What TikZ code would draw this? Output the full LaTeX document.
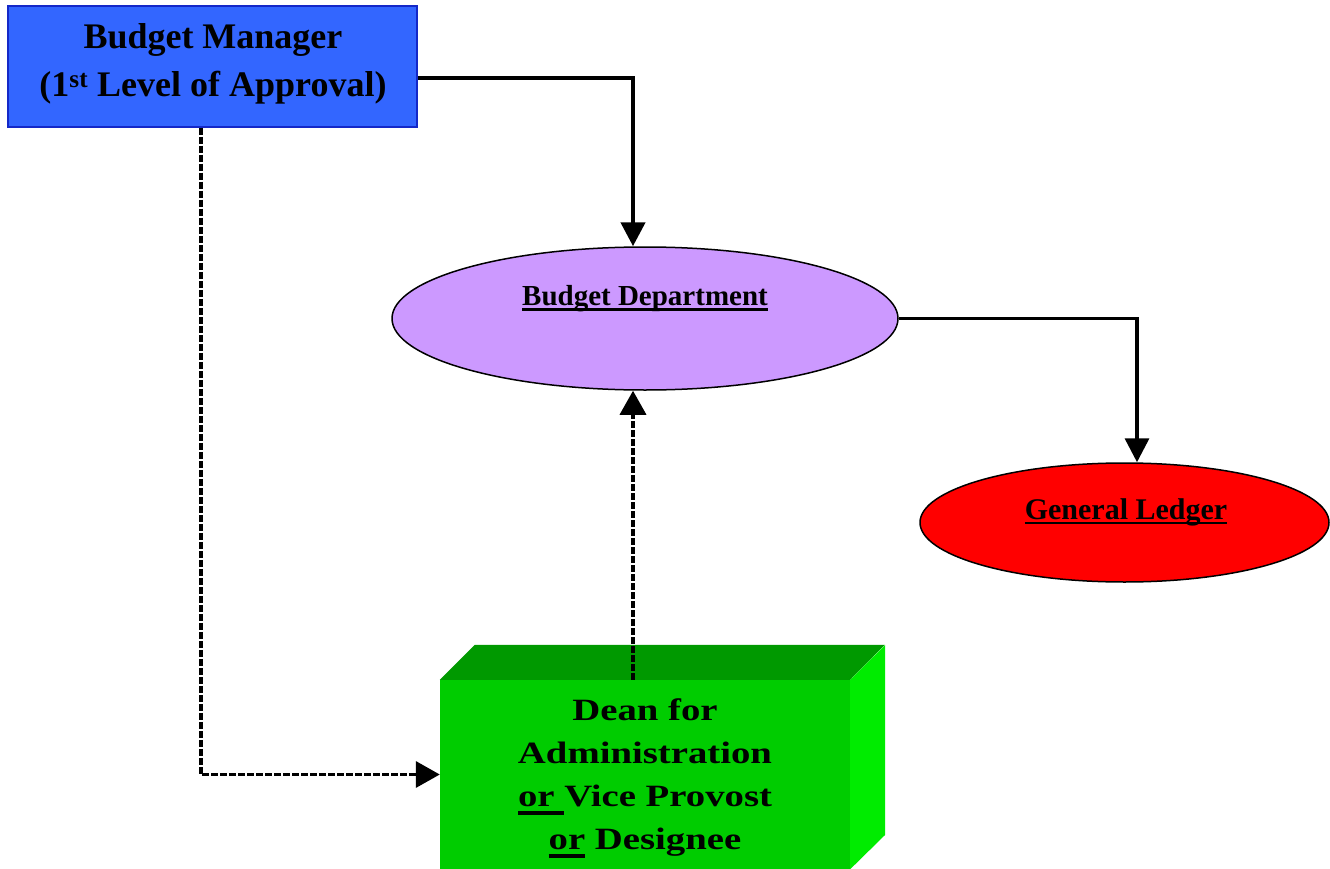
\documentclass[tikz,border=0pt]{standalone}
\usepackage{fontspec}
\setmainfont{Liberation Serif}
\newfontfamily\widefont[FakeStretch=1.25]{Liberation Serif}
\usetikzlibrary{arrows.meta,shapes.geometric}
\definecolor{bmblue}{RGB}{51,102,255}
\definecolor{bmborder}{RGB}{20,40,200}
\definecolor{bdpurple}{RGB}{204,153,255}
\definecolor{glred}{RGB}{255,0,0}
\definecolor{gfront}{RGB}{0,204,0}
\definecolor{gtop}{RGB}{0,153,0}
\definecolor{gside}{RGB}{0,236,0}
\newcommand\thickul[3]{\setbox0\hbox{#3}\rlap{\rule[-#1]{\wd0}{#2}}\box0\relax}
\tikzset{
  solidarrow/.style={line width=4.5pt,-{Triangle[length=24pt,width=24pt]}},
  solidarrowb/.style={line width=3.5pt,-{Triangle[length=24pt,width=24pt]}},
  dasharrow/.style={line width=3.5pt,dash pattern=on 7pt off 2pt,-{Triangle[length=24pt,width=26pt]}},
  txt/.style={inner sep=0pt,font=\bfseries,align=center},
}
\begin{document}
\begin{tikzpicture}[x=1pt,y=-1pt]
\useasboundingbox (0,0) rectangle (1330,869);
% Budget Manager
\node[draw=bmborder,line width=1.5pt,fill=bmblue,minimum width=409pt,minimum height=121pt,inner sep=0pt] (bm) at (212.5,66.5) {};
\node[txt,font=\bfseries\fontsize{36}{48}\selectfont] (bmt) at (213,63.5) {Budget Manager\\(1\textsuperscript{st} Level of Approval)};
% Budget Department
\node[ellipse,draw,line width=1.5pt,fill=bdpurple,minimum width=506pt,minimum height=143pt,inner sep=0pt] (bd) at (645,318.5) {};
\node[txt,anchor=base,font=\bfseries\fontsize{29}{34}\selectfont] (bdt) at (645,305) {\thickul{6pt}{3pt}{Budget Department}};
% General Ledger
\node[ellipse,draw,line width=1.5pt,fill=glred,minimum width=409pt,minimum height=119pt,inner sep=0pt] (gl) at (1124.5,522.5) {};
\node[txt,anchor=base,font=\bfseries\fontsize{30}{34}\selectfont] (glt) at (1126,519) {\thickul{5pt}{2.5pt}{General Ledger}};
% Dean box (3D)
\node[fill=gfront,minimum width=410pt,minimum height=189pt,inner sep=0pt] (dean) at (645,774.5) {};
\fill[gtop] (dean.north west) -- ++(35,-35) -- ++(410,0) -- (dean.north east) -- cycle;
\fill[gside] (dean.north east) -- ++(35,-35) -- ++(0,190) -- (dean.south east) -- cycle;
\node[txt,font=\widefont\bfseries\fontsize{31}{43}\selectfont] (deant) at (645,778.5) {Dean for\\Administration\\\thickul{9pt}{4pt}{or }Vice Provost\\\thickul{9pt}{4pt}{or} Designee};
% connectors
\draw[solidarrow] ([yshift=-11.5pt]bm.east) -| ([xshift=-12pt]bd.north);
\draw[solidarrowb] (bd.east) -| ([xshift=12.5pt]gl.north);
\draw[dasharrow] ([xshift=-11.5pt]bm.south) |- (dean.west);
\draw[dasharrow] ([xshift=-12pt]dean.north) -- ([xshift=-12pt]bd.south);
\end{tikzpicture}
\end{document}
